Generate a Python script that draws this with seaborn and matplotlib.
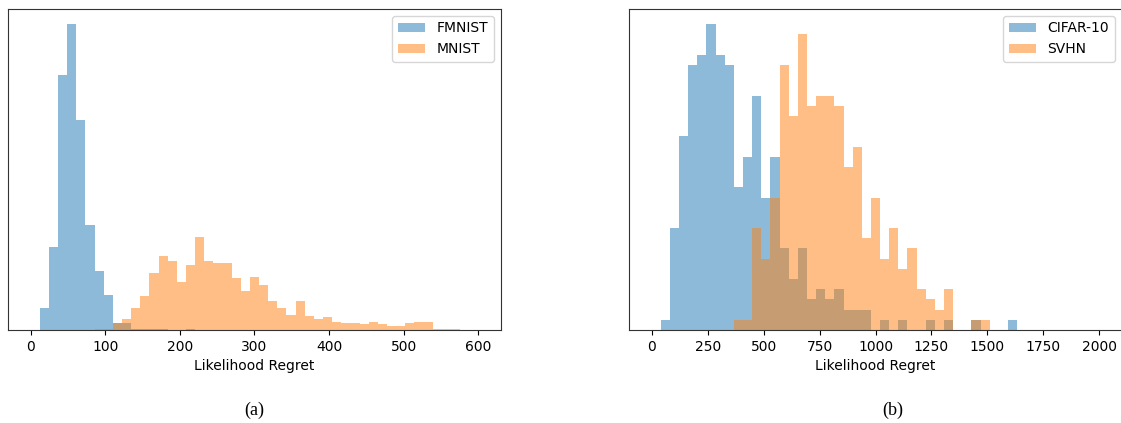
import numpy as np
import pandas as pd
import matplotlib
matplotlib.use("Agg")
import matplotlib.pyplot as plt
import seaborn as sns

# ---------------- data (bin counts) ----------------
# panel (a): 49 bins over [0, 600]
bins_a_max = 600
fmnist_counts = [0, 16, 59, 182, 218, 150, 75, 42, 25, 5, 5, 1, 1, 1, 1, 0, 0, 1,
                 0, 0, 0, 0, 0, 0, 0, 0, 0, 0, 0, 0, 0, 0, 0, 0, 0, 0, 0, 0, 0, 0,
                 0, 0, 0, 0, 0, 0, 0, 0, 0]
mnist_counts = [0, 0, 0, 0, 0, 0, 0, 1, 1, 5, 8, 16, 24, 41, 53, 49, 34, 46, 66,
                49, 48, 48, 37, 28, 38, 32, 21, 16, 11, 21, 10, 8, 9, 6, 5, 5, 4,
                6, 4, 3, 3, 5, 6, 6, 1, 1, 1, 0, 0]
# panel (b): 49 bins over [0, 2000]
bins_b_max = 2000
cifar_counts = [0, 1, 10, 19, 26, 27, 30, 27, 26, 14, 17, 23, 13, 17, 8, 5, 8, 3,
                4, 3, 4, 2, 2, 2, 0, 1, 0, 1, 0, 0, 1, 0, 1, 0, 0, 1, 0, 0, 0, 1,
                0, 0, 0, 0, 0, 0, 0, 0, 0]
svhn_counts = [0, 0, 0, 0, 0, 0, 0, 0, 0, 1, 1, 10, 7, 13, 26, 21, 29, 22, 23, 23,
               22, 16, 18, 9, 13, 7, 10, 6, 8, 4, 3, 2, 4, 0, 0, 1, 1, 0, 0, 0,
               0, 0, 0, 0, 0, 0, 0, 0, 0]

labels_a = ["FMNIST", "MNIST"]
labels_b = ["CIFAR-10", "SVHN"]
ticks_a = [0, 100, 200, 300, 400, 500, 600]
ticks_b = [0, 250, 500, 750, 1000, 1250, 1500, 1750, 2000]
xlabel = "Likelihood Regret"
captions = ["(a)", "(b)"]

colors = ["#1f77b4", "#ff7f0e"]

# ---------------- figure ----------------
W, H = 1121, 423
fig = plt.figure(figsize=(W / 100, H / 100), dpi=100)

ax_a = fig.add_axes([8.3 / W, (H - 330) / H, 492.4 / W, 321 / H])
ax_b = fig.add_axes([629.3 / W, (H - 330) / H, 492.4 / W, 321 / H])


def draw(ax, series, labels, vmax, ticks):
    nb = len(series[0])
    width = vmax / nb
    centers = np.arange(nb) * width + width / 2
    for counts, lab, col in zip(series, labels, colors):
        df = pd.DataFrame({"x": centers, "w": np.asarray(counts, dtype=float)})
        sns.histplot(data=df, x="x", weights="w", binwidth=width,
                     binrange=(0, vmax), ax=ax,
                     color=col, alpha=0.5, linewidth=0, edgecolor="none",
                     label=lab, stat="count")
    ax.set_xlim(-0.05 * vmax, 1.05 * vmax)
    ax.set_xticks(ticks)
    ax.set_yticks([])
    ax.set_ylabel("")
    ax.set_xlabel(xlabel, fontsize=10)
    ax.tick_params(axis="x", labelsize=10)
    for sp in ax.spines.values():
        sp.set_color("#333333")
    ax.legend(loc="upper right", fontsize=10)


draw(ax_a, [fmnist_counts, mnist_counts], labels_a, bins_a_max, ticks_a)
draw(ax_b, [cifar_counts, svhn_counts], labels_b, bins_b_max, ticks_b)

fig.text(254.5 / W, 1 - 410 / H, captions[0], ha="center", va="center",
         fontsize=13, family="Liberation Serif")
fig.text(893 / W, 1 - 410 / H, captions[1], ha="center", va="center",
         fontsize=13, family="Liberation Serif")

fig.savefig("out.png", dpi=100)
